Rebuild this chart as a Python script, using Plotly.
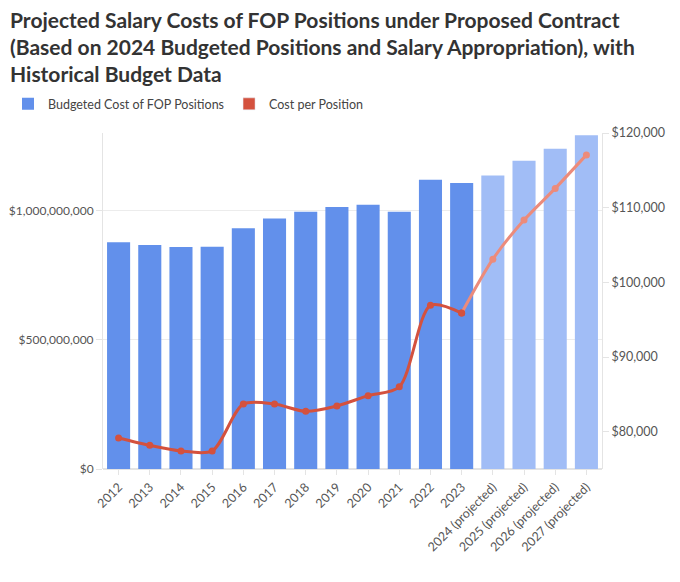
import plotly.graph_objects as go

categories = ["2012", "2013", "2014", "2015", "2016", "2017", "2018", "2019", "2020",
              "2021", "2022", "2023", "2024 (projected)", "2025 (projected)",
              "2026 (projected)", "2027 (projected)"]
budget_cost = [877e6, 867e6, 859e6, 860e6, 931e6, 969e6, 995e6, 1014e6, 1022e6,
               995e6, 1119e6, 1107e6, 1136e6, 1193e6, 1239e6, 1291e6]
cost_per_position = [79160, 78170, 77420, 77420, 83700, 83700, 82720, 83440, 84820,
                     86000, 96920, 95890, 103100, 108340, 112580, 117070]
projected = [False] * 12 + [True] * 4

left_ticks = [0, 500e6, 1000e6]
left_labels = ["$0", "$500,000,000", "$1,000,000,000"]
right_ticks = [80000, 90000, 100000, 110000, 120000]
right_labels = ["$80,000", "$90,000", "$100,000", "$110,000", "$120,000"]

BLUE = "#6290eb"
BLUE_LIGHT = "#a1bdf6"
RED = "#d4513e"
RED_LIGHT = "#ec8b7b"

hist_idx = [i for i, p in enumerate(projected) if not p]
proj_idx = [hist_idx[-1]] + [i for i, p in enumerate(projected) if p]

# page body has an 8px default margin, so the figure is sized to fit inside it
W, H = 672, 574

fig = go.Figure()
fig.add_trace(go.Bar(
    x=categories, y=budget_cost, name="Budgeted Cost of FOP Positions",
    marker=dict(color=[BLUE_LIGHT if p else BLUE for p in projected], line=dict(width=0)),
    yaxis="y",
))
fig.add_trace(go.Scatter(
    x=[categories[i] for i in hist_idx], y=[cost_per_position[i] for i in hist_idx],
    mode="lines+markers", line=dict(color=RED, width=3, shape="spline", smoothing=0.8),
    marker=dict(size=7, color=RED), yaxis="y2", showlegend=False,
))
fig.add_trace(go.Scatter(
    x=[categories[i] for i in proj_idx], y=[cost_per_position[i] for i in proj_idx],
    mode="lines+markers", line=dict(color=RED_LIGHT, width=3, shape="spline", smoothing=0.8),
    marker=dict(size=7, color=[RED] + [RED_LIGHT] * (len(proj_idx) - 1)),
    yaxis="y2", showlegend=False,
))
# legend swatch for the line series
fig.add_trace(go.Bar(
    x=[categories[0]], y=[None], name="Cost per Position", marker=dict(color=RED), yaxis="y2",
))

fig.update_layout(
    width=W, height=H,
    paper_bgcolor="white", plot_bgcolor="white",
    font=dict(family="Lato", size=12, color="#555"),
    barmode="overlay", bargap=0.26,
    margin=dict(l=95, r=78, t=125, b=113, autoexpand=False),
    title=dict(
        text="Projected Salary Costs of FOP Positions under Proposed Contract<br>"
             "(Based on 2024 Budgeted Positions and Salary Appropriation), with<br>"
             "Historical Budget Data",
        font=dict(family="Lato", size=21, color="#333", weight="bold"),
        xref="container", yref="container", x=0.003, y=0.966,
        xanchor="left", yanchor="top", automargin=False,
    ),
    legend=dict(
        orientation="h", xref="container", yref="container",
        x=0, y=0.8585, xanchor="left", yanchor="top",
        font=dict(size=12.5, color="#444"), itemwidth=30, traceorder="normal",
    ),
    xaxis=dict(
        range=[-0.5, len(categories) - 0.5],
        tickangle=-45, showgrid=False, showline=False, automargin=False,
        ticks="outside", ticklen=5, tickcolor="#e4e4e4",
        tickfont=dict(size=12.5, color="#555"),
    ),
    yaxis=dict(
        range=[0, 1.3e9], tickvals=left_ticks, ticktext=left_labels, automargin=False,
        showgrid=True, gridcolor="#ececec", zeroline=True, zerolinecolor="#e4e4e4",
        showline=True, linecolor="#e4e4e4", ticks="outside", ticklen=6, tickcolor="#e4e4e4",
        tickfont=dict(size=12, color="#555"),
    ),
    yaxis2=dict(
        range=[75000, 120000], tickvals=right_ticks, ticktext=right_labels, automargin=False,
        overlaying="y", side="right", showgrid=False, zeroline=False,
        showline=True, linecolor="#e4e4e4", ticks="outside", ticklen=6, tickcolor="#e4e4e4",
        tickfont=dict(size=12.5, color="#555"),
    ),
)

fig.write_html("out.html")
